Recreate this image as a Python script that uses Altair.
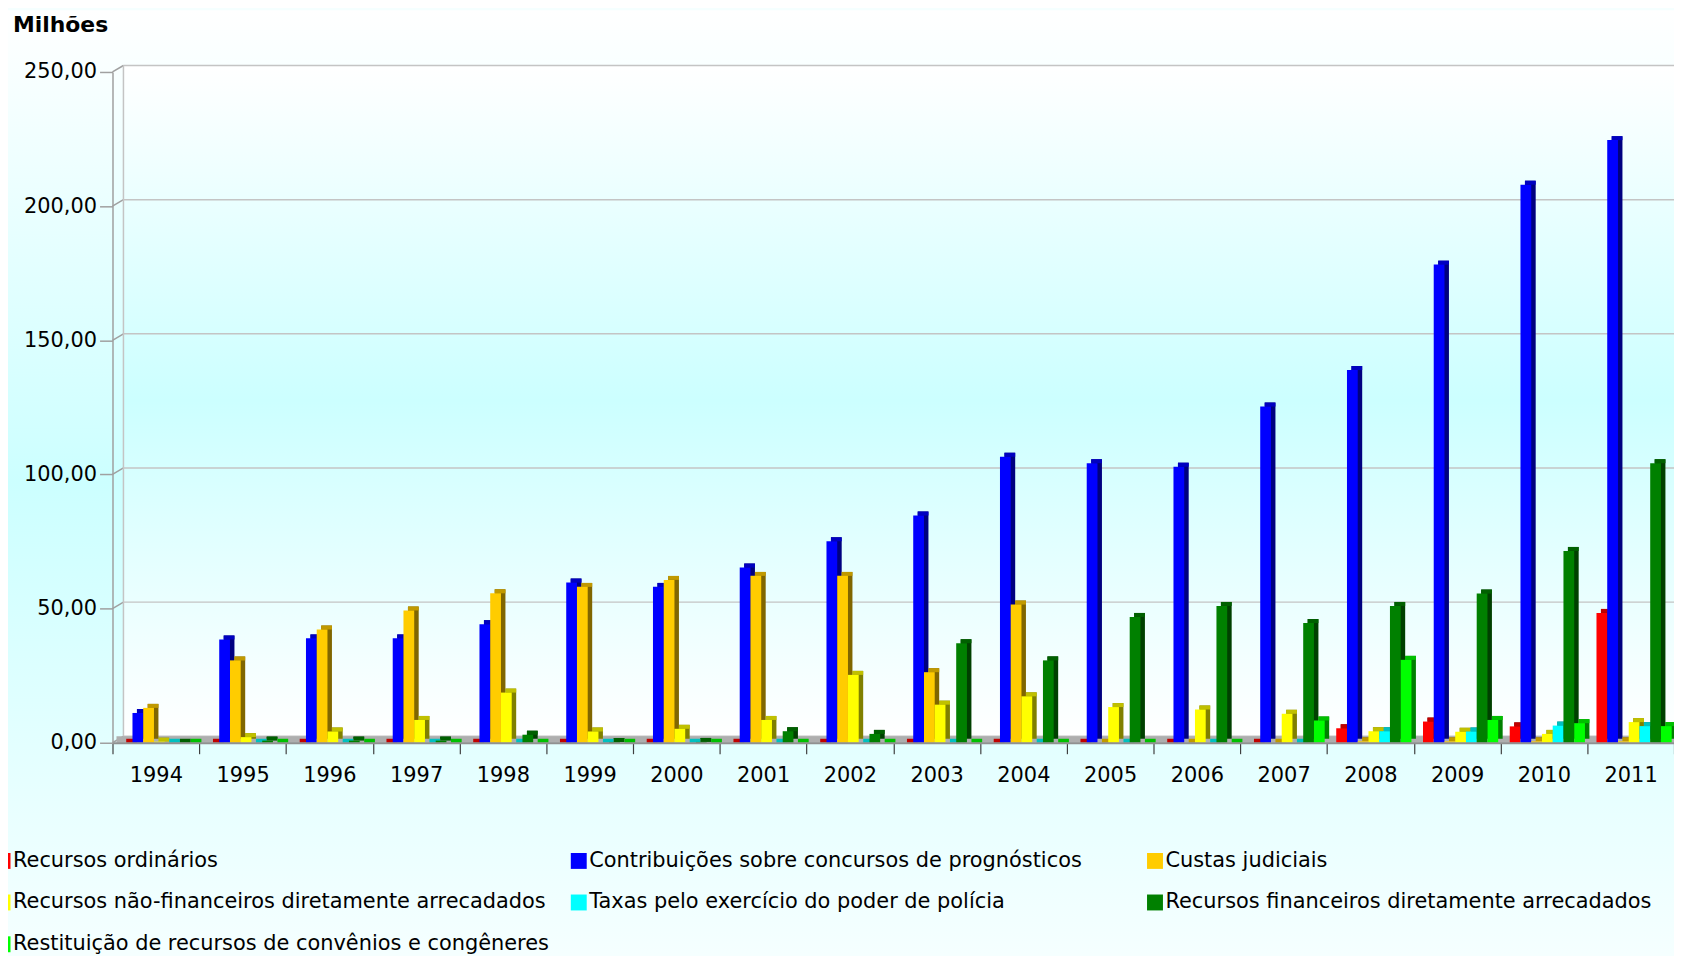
import altair as alt
import pandas as pd

# ---------------- data ----------------
years = [str(y) for y in range(1994, 2012)]
series = [
    "Recursos ordinários",
    "Contribuições sobre concursos de prognósticos",
    "Custas judiciais",
    "Recursos não-financeiros diretamente arrecadados",
    "Taxas pelo exercício do poder de polícia",
    "Recursos financeiros diretamente arrecadados",
    "Restituição de recursos de convênios e congêneres",
]
recursos_ordinarios = [0, 0, 0, 0, 0, 0, 0, 0, 0, 0, 0, 0, 0, 0, 5.4, 7.9, 6.1, 48.4]
contribuicoes = [11.1, 38.5, 38.9, 38.9, 44.2, 59.7, 58.1, 65.3, 75.1, 84.7, 106.6, 104.2, 102.9, 125.3, 138.9, 178.2, 208.0, 224.6]
custas_judiciais = [13.0, 30.7, 42.2, 49.3, 55.7, 58.1, 60.7, 62.2, 62.2, 26.3, 51.5, 0, 0, 0, 0.5, 0.5, 0.5, 0.5]
nao_financeiros = [0.4, 2.1, 4.2, 8.5, 18.7, 4.2, 5.2, 8.5, 25.3, 14.2, 17.3, 13.3, 12.4, 10.8, 4.3, 4.1, 3.3, 7.7]
taxas_policia = [0, 0, 0, 0, 0, 0, 0, 0, 0, 0, 0, 0, 0, 0, 4.3, 4.2, 6.4, 6.2]
financeiros = [0, 0.8, 0.8, 0.8, 3.0, 0.3, 0.3, 4.3, 3.3, 37.1, 30.7, 46.9, 51.0, 44.6, 51.0, 55.6, 71.5, 104.2]
restituicao = [0, 0, 0, 0, 0, 0, 0, 0, 0, 0, 0, 0, 0, 8.3, 30.9, 8.5, 7.3, 6.2]
series_values = [recursos_ordinarios, contribuicoes, custas_judiciais, nao_financeiros,
                 taxas_policia, financeiros, restituicao]
tick_values = [0, 50, 100, 150, 200, 250]

# ---------------- styles ----------------
front_colors = ["#FF0000", "#0000FF", "#FFCC00", "#FFFF00", "#00FFFF", "#008000", "#00FF00"]
top_colors = ["#C00000", "#0000C0", "#C09900", "#C0C000", "#00C0C0", "#006000", "#00C000"]
side_colors = ["#800000", "#000080", "#806600", "#808000", "#008080", "#004000", "#008000"]

W, H = 1569, 674          # plot area
PAD_L, PAD_T = 105, 62
PAD_B = 948 - PAD_T - H
D, DY = 4.5, 4            # bar depth
WD, WDY = 11, 6.5         # wall depth
FONT = "DejaVu Sans"

rows = []
for s, vals, fc, tc, sc in zip(series, series_values, front_colors, top_colors, side_colors):
    for yr, v in zip(years, vals):
        rows.append({"ano": yr, "serie": s, "valor": v, "cor_topo": tc, "cor_lado": sc})
df = pd.DataFrame(rows)

x_enc = alt.X(
    "ano:N", sort=years,
    scale=alt.Scale(paddingInner=0, paddingOuter=0),
    axis=alt.Axis(labelAngle=0, labelFont=FONT, labelFontSize=21, labelColor="black",
                  labelPadding=11, tickSize=11, tickColor="#404040", tickWidth=1.2,
                  tickBand="extent", domainColor="#909090", domainWidth=2,
                  title=None, zindex=1),
)
# same band layout, shifted right by the bar depth (for the 3D side/top faces)
x_shift = alt.X("ano:N", sort=years,
                scale=alt.Scale(paddingInner=0, paddingOuter=0, range=[D, W + D]),
                axis=None)
xoff_enc = alt.XOffset("serie:N", sort=series,
                       scale=alt.Scale(paddingInner=0, paddingOuter=0.537, align=0.8))
y_axis = alt.Axis(values=tick_values,
                  labelExpr="replace(format(datum.value, '.2f'), '.', ',')",
                  labelFont=FONT, labelFontSize=21, labelColor="black", labelPadding=3,
                  tickSize=13, tickColor="#A0A0A0", tickWidth=1.5,
                  domainColor="#A0A0A0", domainWidth=1.5, grid=False, title=None, zindex=1)
y_scale = alt.Scale(domain=[0, 250], nice=False, zero=True)
y_enc = alt.Y("valor:Q", scale=y_scale, axis=y_axis)

page_grad = alt.Gradient(gradient="linear", x1=0, x2=0, y1=0, y2=1, stops=[
    alt.GradientStop(color="#FFFFFF", offset=0),
    alt.GradientStop(color="#CCFFFF", offset=0.5),
    alt.GradientStop(color="#F5FFFF", offset=1)])
wall_grad = alt.Gradient(gradient="linear", x1=0, x2=0, y1=0, y2=1, stops=[
    alt.GradientStop(color="#FFFFFF", offset=0),
    alt.GradientStop(color="#CCFFFF", offset=0.5),
    alt.GradientStop(color="#FFFFFF", offset=1)])

one = pd.DataFrame({"valor": [0], "topo": [250]})
grid_df = pd.DataFrame({"valor": tick_values})

background = alt.Chart(one).mark_rect(fill=page_grad).encode(
    x=alt.value(-PAD_L), x2=alt.value(W), y=alt.value(-PAD_T), y2=alt.value(H + PAD_B))

wall = alt.Chart(one).mark_rect(fill=wall_grad, yOffset=-WDY, y2Offset=-WDY).encode(
    x=alt.value(WD), x2=alt.value(W), y=y_enc, y2="topo:Q")

gridlines = alt.Chart(grid_df).mark_rule(color="#C4C4C4", strokeWidth=1.5,
                                         yOffset=-WDY, y2Offset=-WDY).encode(
    x=alt.value(WD), x2=alt.value(W), y=y_enc, y2="valor:Q")

connectors = alt.Chart(grid_df).mark_rule(color="#A0A0A0", strokeWidth=1.5,
                                          y2Offset=-WDY).encode(
    x=alt.value(0), x2=alt.value(WD), y=y_enc, y2="valor:Q")

wall_line = alt.Chart(one).mark_rule(color="#C4C4C4", strokeWidth=1.5,
                                     yOffset=-WDY, y2Offset=-WDY).encode(
    x=alt.value(WD), y=y_enc, y2="topo:Q")

floor = alt.Chart(one).mark_rect(fill="#AEAEAE", yOffset=-WDY, y2Offset=0).encode(
    x=alt.value(4), x2=alt.value(W), y=y_enc, y2="valor:Q")

side = alt.Chart(df).mark_bar(yOffset=-DY, y2Offset=-DY).encode(
    x=x_shift, xOffset=xoff_enc, y=y_enc, y2=alt.datum(0),
    fill=alt.Fill("cor_lado:N", scale=None))

top = alt.Chart(df).mark_bar(yOffset=-DY, y2Offset=0).encode(
    x=x_shift, xOffset=xoff_enc, y=y_enc, y2="valor:Q",
    fill=alt.Fill("cor_topo:N", scale=None))

front = alt.Chart(df).mark_bar().encode(
    x=x_enc, xOffset=xoff_enc, y=y_enc, y2=alt.datum(0),
    color=alt.Color("serie:N", sort=series,
                    scale=alt.Scale(domain=series, range=front_colors),
                    legend=alt.Legend(orient="none", legendX=-121, legendY=782, columns=3,
                                      direction="horizontal", symbolType="square",
                                      symbolSize=256, symbolStrokeWidth=0,
                                      labelFont=FONT, labelFontSize=21, labelColor="black",
                                      labelLimit=1000, labelOffset=0, columnPadding=18,
                                      rowPadding=20, gridAlign="all", title=None,
                                      padding=0, zindex=1)),
)

title = alt.Chart(one).mark_text(text="Milhões", font=FONT, fontSize=22, fontWeight="bold",
                                 align="left", baseline="alphabetic", color="black").encode(
    x=alt.value(-100), y=alt.value(-40))

chart = alt.layer(background, wall, gridlines, connectors, wall_line, floor,
                  side, top, front, title).resolve_scale(
    x="independent", xOffset="independent"
).properties(
    width=W, height=H,
    autosize=alt.AutoSizeParams(type="none"),
    padding={"left": PAD_L, "top": PAD_T, "right": 0, "bottom": PAD_B},
).configure_view(stroke=None).configure(background="#F5FFFF")

chart.save("out.html", embed_options={"renderer": "svg", "actions": False})
